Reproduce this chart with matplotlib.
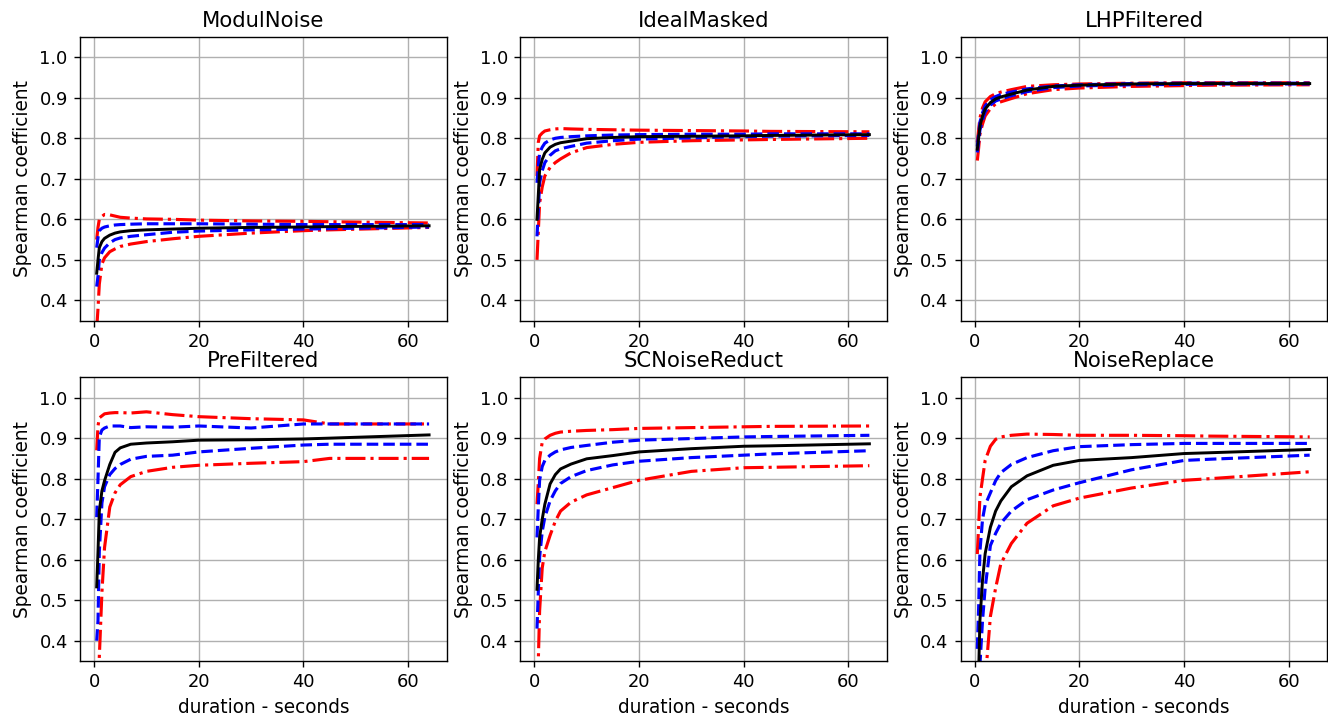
import numpy as np
import matplotlib.pyplot as plt

dur = [0.5, 0.75, 1, 1.5, 2, 3, 4, 5, 7, 10, 15, 20, 30, 40, 45, 64]

titles = ['ModulNoise', 'IdealMasked', 'LHPFiltered',
          'PreFiltered', 'SCNoiseReduct', 'NoiseReplace']

# ModulNoise
modul_med = [0.467, 0.50, 0.53, 0.545, 0.553, 0.561, 0.566, 0.569, 0.572, 0.574, 0.576, 0.578, 0.580, 0.581, 0.582, 0.584]
modul_q3 = [0.53, 0.555, 0.572, 0.578, 0.581, 0.584, 0.586, 0.587, 0.588, 0.589, 0.589, 0.589, 0.588, 0.587, 0.587, 0.587]
modul_q1 = [0.434, 0.46, 0.50, 0.518, 0.529, 0.542, 0.55, 0.554, 0.558, 0.562, 0.568, 0.571, 0.574, 0.576, 0.577, 0.581]
modul_hi = [0.55, 0.58, 0.60, 0.607, 0.612, 0.611, 0.608, 0.605, 0.603, 0.601, 0.60, 0.598, 0.596, 0.595, 0.594, 0.591]
modul_lo = [0.33, 0.38, 0.44, 0.49, 0.505, 0.52, 0.527, 0.533, 0.539, 0.545, 0.552, 0.558, 0.566, 0.572, 0.574, 0.58]

# IdealMasked
ideal_med = [0.60, 0.66, 0.723, 0.748, 0.764, 0.778, 0.785, 0.789, 0.793, 0.799, 0.802, 0.804, 0.805, 0.806, 0.807, 0.809]
ideal_q3 = [0.69, 0.73, 0.764, 0.778, 0.788, 0.796, 0.80, 0.802, 0.804, 0.806, 0.808, 0.809, 0.810, 0.810, 0.811, 0.811]
ideal_q1 = [0.558, 0.62, 0.69, 0.72, 0.74, 0.758, 0.769, 0.774, 0.78, 0.788, 0.794, 0.798, 0.801, 0.804, 0.805, 0.807]
ideal_hi = [0.707, 0.79, 0.806, 0.813, 0.818, 0.821, 0.823, 0.824, 0.823, 0.822, 0.821, 0.82, 0.819, 0.818, 0.817, 0.816]
ideal_lo = [0.50, 0.57, 0.64, 0.68, 0.707, 0.728, 0.74, 0.749, 0.764, 0.777, 0.785, 0.79, 0.794, 0.796, 0.797, 0.80]

# LHPFiltered
lhp_med = [0.773, 0.80, 0.83, 0.855, 0.872, 0.888, 0.897, 0.902, 0.909, 0.919, 0.928, 0.931, 0.934, 0.935, 0.935, 0.935]
lhp_q3 = [0.78, 0.81, 0.84, 0.863, 0.88, 0.895, 0.903, 0.908, 0.914, 0.922, 0.929, 0.932, 0.935, 0.936, 0.936, 0.936]
lhp_q1 = [0.765, 0.79, 0.82, 0.845, 0.865, 0.882, 0.892, 0.897, 0.905, 0.915, 0.925, 0.929, 0.932, 0.933, 0.934, 0.934]
lhp_hi = [0.79, 0.82, 0.85, 0.875, 0.89, 0.903, 0.91, 0.914, 0.92, 0.928, 0.932, 0.934, 0.936, 0.937, 0.937, 0.937]
lhp_lo = [0.745, 0.775, 0.81, 0.835, 0.855, 0.873, 0.885, 0.89, 0.898, 0.91, 0.92, 0.924, 0.928, 0.930, 0.931, 0.932]

# PreFiltered
pre_med = [0.533, 0.62, 0.72, 0.77, 0.795, 0.835, 0.865, 0.876, 0.885, 0.888, 0.891, 0.895, 0.896, 0.898, 0.900, 0.908]
pre_q3 = [0.705, 0.80, 0.903, 0.92, 0.925, 0.93, 0.93, 0.93, 0.926, 0.928, 0.927, 0.93, 0.925, 0.935, 0.935, 0.935]
pre_q1 = [0.40, 0.45, 0.62, 0.74, 0.78, 0.81, 0.825, 0.835, 0.848, 0.855, 0.858, 0.866, 0.875, 0.883, 0.885, 0.885]
pre_hi = [0.87, 0.93, 0.95, 0.955, 0.96, 0.962, 0.963, 0.963, 0.962, 0.965, 0.958, 0.953, 0.948, 0.945, 0.935, 0.935]
pre_lo = [0.20, 0.25, 0.36, 0.52, 0.63, 0.73, 0.765, 0.785, 0.805, 0.818, 0.828, 0.833, 0.838, 0.842, 0.85, 0.85]

# SCNoiseReduct
scn_med = [0.527, 0.60, 0.655, 0.70, 0.737, 0.787, 0.81, 0.824, 0.836, 0.849, 0.857, 0.866, 0.874, 0.88, 0.881, 0.886]
scn_q3 = [0.655, 0.73, 0.796, 0.83, 0.845, 0.858, 0.866, 0.871, 0.877, 0.882, 0.89, 0.895, 0.899, 0.903, 0.904, 0.907]
scn_q1 = [0.43, 0.52, 0.606, 0.67, 0.705, 0.745, 0.77, 0.788, 0.805, 0.82, 0.834, 0.843, 0.852, 0.858, 0.861, 0.869]
scn_hi = [0.737, 0.79, 0.85, 0.89, 0.898, 0.907, 0.912, 0.915, 0.917, 0.919, 0.921, 0.924, 0.926, 0.928, 0.929, 0.93]
scn_lo = [0.30, 0.35, 0.474, 0.58, 0.62, 0.66, 0.695, 0.72, 0.742, 0.76, 0.778, 0.796, 0.818, 0.827, 0.828, 0.832]

# NoiseReplace
nrep_med = [0.22, 0.32, 0.45, 0.55, 0.615, 0.68, 0.72, 0.745, 0.78, 0.807, 0.833, 0.845, 0.852, 0.862, 0.864, 0.872]
nrep_q3 = [0.38, 0.48, 0.62, 0.70, 0.735, 0.765, 0.795, 0.815, 0.835, 0.852, 0.869, 0.879, 0.884, 0.887, 0.887, 0.887]
nrep_q1 = [0.15, 0.22, 0.34, 0.45, 0.53, 0.635, 0.665, 0.69, 0.72, 0.748, 0.772, 0.79, 0.822, 0.845, 0.848, 0.858]
nrep_hi = [0.614, 0.68, 0.754, 0.80, 0.845, 0.88, 0.897, 0.903, 0.907, 0.91, 0.909, 0.907, 0.907, 0.906, 0.905, 0.903]
nrep_lo = [0.0, 0.05, 0.15, 0.22, 0.30, 0.46, 0.53, 0.59, 0.64, 0.69, 0.733, 0.752, 0.777, 0.796, 0.80, 0.817]

panels = [
    (modul_med, modul_q1, modul_q3, modul_lo, modul_hi),
    (ideal_med, ideal_q1, ideal_q3, ideal_lo, ideal_hi),
    (lhp_med, lhp_q1, lhp_q3, lhp_lo, lhp_hi),
    (pre_med, pre_q1, pre_q3, pre_lo, pre_hi),
    (scn_med, scn_q1, scn_q3, scn_lo, scn_hi),
    (nrep_med, nrep_q1, nrep_q3, nrep_lo, nrep_hi),
]

fig, axes = plt.subplots(2, 3, figsize=(1328 / 125, 715 / 125), dpi=125)
fig.subplots_adjust(left=0.0602, right=0.9996, top=0.9483, bottom=0.0755,
                    wspace=0.2, hspace=0.2)

for i, ax in enumerate(axes.flat):
    med, q1, q3, lo, hi = panels[i]
    ax.plot(dur, lo, 'r-.', lw=1.8)
    ax.plot(dur, hi, 'r-.', lw=1.8)
    ax.plot(dur, q1, 'b--', lw=1.8)
    ax.plot(dur, q3, 'b--', lw=1.8)
    ax.plot(dur, med, 'k-', lw=1.7)
    ax.set_title(titles[i], fontsize=12.2)
    ax.set_ylim(0.35, 1.05)
    ax.set_xlim(-2.7, 67.4)
    ax.set_yticks(np.arange(0.4, 1.01, 0.1))
    ax.set_xticks([0, 20, 40, 60])
    ax.tick_params(labelsize=10.3)
    ax.set_ylabel('Spearman coefficient', fontsize=10.7)
    if i >= 3:
        ax.set_xlabel('duration - seconds', fontsize=10.7)
    ax.grid()

fig.savefig('out.png', dpi=125)
